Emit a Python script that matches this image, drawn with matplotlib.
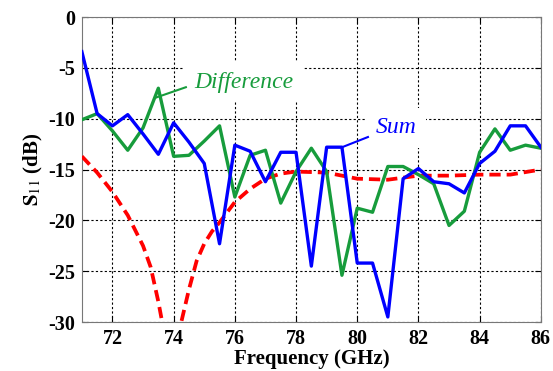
import numpy as np
import matplotlib.pyplot as plt

plt.rcParams['font.family'] = ['Liberation Serif', 'DejaVu Serif']
plt.rcParams['mathtext.fontset'] = 'stix'
plt.rcParams['axes.unicode_minus'] = False

freq = np.arange(71, 86.01, 0.5)
s11_sum = [-3.4, -9.5, -10.7, -9.6, -11.5, -13.5, -10.4, -12.3, -14.4, -22.3,
           -12.6, -13.2, -16.2, -13.3, -13.3, -24.5, -12.8, -12.8, -24.2, -24.2,
           -29.5, -15.9, -14.9, -16.2, -16.4, -17.3, -14.4, -13.2, -10.7, -10.7, -12.8]
s11_diff = [-10.1, -9.5, -11.2, -13.1, -10.9, -7.0, -13.7, -13.6, -12.2, -10.7,
            -17.7, -13.6, -13.1, -18.3, -15.2, -12.9, -15.2, -25.4, -18.8, -19.2,
            -14.7, -14.7, -15.5, -16.4, -20.5, -19.1, -13.3, -11.0, -13.1, -12.6, -12.9]
sim_freq = [71, 71.5, 72, 72.5, 73, 73.25, 73.5, 73.75, 74, 74.25, 74.5, 74.75, 75,
            75.25, 75.5, 76, 76.5, 77, 77.5, 78, 79, 80, 81, 82, 83, 84, 85, 86]
sim_s11 = [-13.7, -15.3, -17.2, -19.5, -22.5, -24.6, -28.0, -32.0, -35.0, -30.0,
           -26.8, -24.0, -22.3, -21.1, -20.2, -18.2, -16.9, -15.9, -15.4, -15.2,
           -15.3, -15.9, -16.0, -15.6, -15.6, -15.5, -15.5, -15.0]

fig = plt.figure(figsize=(5.53, 3.71), dpi=100)
ax = fig.add_axes([0.148, 0.132, 0.83, 0.822])

ax.plot(sim_freq, sim_s11, color='#ff0000', lw=2.7, ls=(0, (3, 1.6)), zorder=3)
ax.plot(freq, s11_diff, color='#179c3c', lw=2.4, zorder=4)
ax.plot(freq, s11_sum, color='#0000ff', lw=2.4, zorder=5)

ax.set_xlim(71, 86)
ax.set_ylim(-30, 0)
ax.set_xticks(range(72, 87, 2))
ax.set_yticks(range(-30, 1, 5))
ax.grid(True, color='black', ls=(0, (2, 2)), lw=0.8)
ax.tick_params(direction='in', top=True, right=True, labelsize=14.5, length=4, pad=5)
for lab in ax.get_xticklabels() + ax.get_yticklabels():
    lab.set_fontweight('bold')
for sp in ax.spines.values():
    sp.set_color('#777777')

ax.set_xlabel('Frequency (GHz)', fontsize=15, fontweight='bold', labelpad=0)
ax.set_ylabel(r'$\mathbf{S}_{11}$ (dB)', fontsize=15, fontweight='bold', labelpad=2)

# annotation labels with leader lines
bb = dict(facecolor='white', edgecolor='none', pad=7)
ax.text(74.67, -6.4, 'Difference', color='#179c3c', fontsize=17, style='italic',
        va='center', ha='left', bbox=bb, zorder=6)
ax.plot([73.44, 74.4], [-7.9, -6.9], color='#179c3c', lw=1.5, zorder=7)
ax.text(80.6, -10.9, 'Sum', color='#0000ff', fontsize=17, style='italic',
        va='center', ha='left', bbox=bb, zorder=6)
ax.plot([79.55, 80.35], [-12.75, -11.8], color='#0000ff', lw=1.5, zorder=7)

fig.savefig('out.png', dpi=100)
